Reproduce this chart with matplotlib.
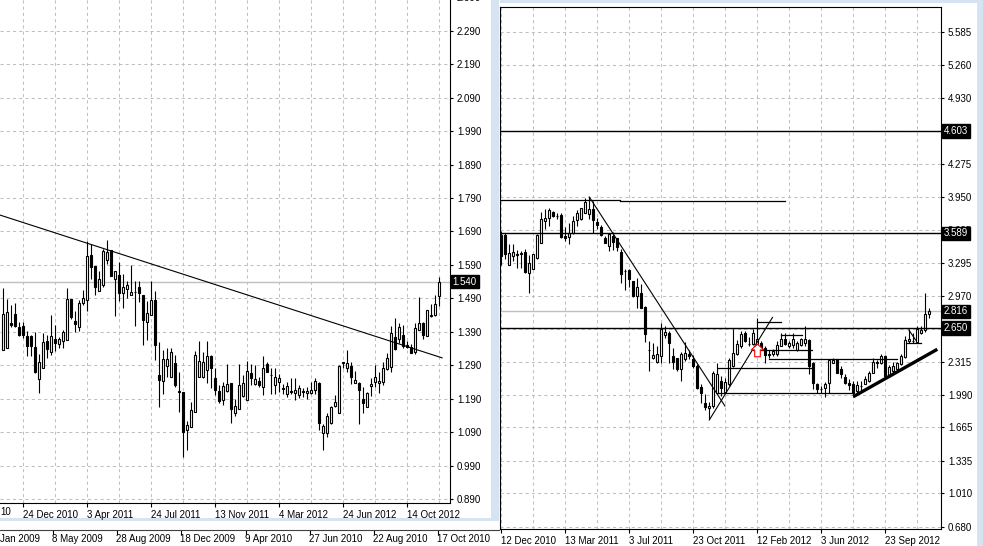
import numpy as np
import matplotlib.pyplot as plt
from matplotlib.patches import Rectangle

plt.rcParams['font.family'] = ['Liberation Sans', 'DejaVu Sans']
plt.rcParams['font.size'] = 7

# ---------------- left chart (weekly candles) ----------------
left_open = [1.336, 1.341, 1.416, 1.443, 1.404, 1.406, 1.378, 1.378, 1.344, 1.249,
             1.283, 1.361, 1.331, 1.369, 1.354, 1.363, 1.366, 1.488, 1.422, 1.405,
             1.477, 1.486, 1.619, 1.588, 1.511, 1.529, 1.606, 1.634, 1.548, 1.561,
             1.505, 1.519, 1.499, 1.509, 1.523, 1.499, 1.418, 1.439, 1.486, 1.261,
             1.244, 1.288, 1.256, 1.296, 1.214, 1.211, 1.096, 1.106, 1.151, 1.256,
             1.256, 1.276, 1.318, 1.251, 1.214, 1.186, 1.214, 1.236, 1.148, 1.160,
             1.199, 1.187, 1.266, 1.234, 1.244, 1.226, 1.293, 1.262, 1.231, 1.240,
             1.222, 1.204, 1.214, 1.208, 1.201, 1.212, 1.208, 1.207, 1.216, 1.236,
             1.086, 1.088, 1.116, 1.169, 1.148, 1.297, 1.281, 1.288, 1.238, 1.238,
             1.188, 1.166, 1.228, 1.239, 1.236, 1.241, 1.279, 1.286, 1.373, 1.369,
             1.381, 1.349, 1.343, 1.329, 1.396, 1.416, 1.376, 1.436, 1.439, 1.496]
left_high = [1.521, 1.489, 1.469, 1.475, 1.418, 1.418, 1.391, 1.381, 1.389, 1.325,
             1.387, 1.379, 1.439, 1.409, 1.375, 1.394, 1.521, 1.488, 1.453, 1.486,
             1.516, 1.661, 1.651, 1.588, 1.571, 1.638, 1.665, 1.634, 1.573, 1.598,
             1.564, 1.543, 1.591, 1.543, 1.543, 1.501, 1.481, 1.541, 1.513, 1.359,
             1.336, 1.341, 1.341, 1.321, 1.269, 1.211, 1.123, 1.181, 1.333, 1.361,
             1.331, 1.361, 1.321, 1.281, 1.231, 1.239, 1.293, 1.236, 1.189, 1.293,
             1.261, 1.304, 1.293, 1.291, 1.254, 1.318, 1.301, 1.281, 1.281, 1.264,
             1.234, 1.239, 1.253, 1.253, 1.231, 1.223, 1.226, 1.241, 1.251, 1.241,
             1.113, 1.148, 1.168, 1.201, 1.291, 1.301, 1.334, 1.301, 1.274, 1.241,
             1.226, 1.211, 1.251, 1.291, 1.271, 1.301, 1.326, 1.408, 1.431, 1.416,
             1.411, 1.361, 1.353, 1.416, 1.494, 1.418, 1.456, 1.473, 1.501, 1.553]
left_low = [1.336, 1.341, 1.403, 1.403, 1.376, 1.371, 1.318, 1.318, 1.268, 1.207,
            1.281, 1.313, 1.321, 1.333, 1.341, 1.341, 1.366, 1.429, 1.388, 1.391,
            1.471, 1.451, 1.549, 1.501, 1.511, 1.523, 1.593, 1.556, 1.436, 1.481,
            1.461, 1.491, 1.499, 1.408, 1.479, 1.349, 1.366, 1.439, 1.306, 1.166,
            1.203, 1.256, 1.256, 1.226, 1.151, 1.016, 1.036, 1.104, 1.151, 1.256,
            1.253, 1.236, 1.221, 1.201, 1.176, 1.171, 1.211, 1.118, 1.139, 1.160,
            1.196, 1.187, 1.231, 1.231, 1.226, 1.201, 1.269, 1.204, 1.204, 1.211,
            1.204, 1.196, 1.205, 1.186, 1.191, 1.196, 1.189, 1.203, 1.205, 1.096,
            1.036, 1.076, 1.114, 1.166, 1.148, 1.281, 1.271, 1.234, 1.236, 1.114,
            1.148, 1.166, 1.199, 1.226, 1.207, 1.231, 1.276, 1.271, 1.336, 1.356,
            1.341, 1.341, 1.326, 1.323, 1.394, 1.368, 1.376, 1.433, 1.436, 1.466]
left_close = [1.443, 1.449, 1.411, 1.408, 1.381, 1.381, 1.348, 1.348, 1.269, 1.299,
              1.359, 1.339, 1.376, 1.355, 1.368, 1.388, 1.488, 1.434, 1.413, 1.475,
              1.491, 1.616, 1.583, 1.523, 1.548, 1.631, 1.629, 1.558, 1.571, 1.505,
              1.523, 1.529, 1.508, 1.510, 1.506, 1.426, 1.446, 1.486, 1.349, 1.246,
              1.308, 1.308, 1.329, 1.231, 1.209, 1.091, 1.111, 1.157, 1.321, 1.304,
              1.301, 1.318, 1.281, 1.216, 1.183, 1.229, 1.233, 1.159, 1.169, 1.231,
              1.236, 1.274, 1.252, 1.248, 1.232, 1.283, 1.271, 1.260, 1.254, 1.253,
              1.220, 1.229, 1.209, 1.217, 1.221, 1.210, 1.214, 1.217, 1.244, 1.116,
              1.109, 1.139, 1.166, 1.181, 1.288, 1.299, 1.298, 1.255, 1.247, 1.216,
              1.178, 1.208, 1.234, 1.255, 1.242, 1.281, 1.313, 1.385, 1.339, 1.404,
              1.346, 1.344, 1.328, 1.401, 1.416, 1.379, 1.454, 1.439, 1.472, 1.540]
left_last = 1.540
left_trend = [(-0.83, 1.739), (109.7, 1.312)]
left_yticks = [0.890, 0.990, 1.090, 1.190, 1.290, 1.390, 1.490, 1.590, 1.690,
               1.790, 1.890, 1.990, 2.090, 2.190, 2.290, 2.390]
left_date_pos = [5, 21, 37, 53, 69, 85, 101]
left_date_labels = ["24 Dec 2010", "3 Apr 2011", "24 Jul 2011", "13 Nov 2011",
                    "4 Mar 2012", "24 Jun 2012", "14 Oct 2012"]
left_cut_label = "10"   # tail of a date label cut by the window edge
back_date_labels = ["Jan 2009", "8 May 2009", "28 Aug 2009", "18 Dec 2009",
                    "9 Apr 2010", "27 Jun 2010", "22 Aug 2010", "17 Oct 2010"]

# ---------------- right chart ----------------
right_open = [3.572, 3.572, 3.275, 3.364, 3.380, 3.388, 3.407, 3.199, 3.238, 3.341,
              3.496, 3.711, 3.744, 3.804, 3.762, 3.767, 3.562, 3.556, 3.595, 3.718,
              3.728, 3.794, 3.784, 3.827, 3.701, 3.655, 3.546, 3.463, 3.562, 3.546,
              3.404, 3.217, 3.222, 3.116, 2.967, 3.000, 2.862, 2.430, 2.356, 2.313,
              2.372, 2.577, 2.597, 2.372, 2.356, 2.247, 2.339, 2.396, 2.339, 2.273,
              2.069, 1.909, 1.858, 1.877, 2.009, 2.125, 2.016, 2.092, 2.273, 2.389,
              2.472, 2.604, 2.490, 2.488, 2.488, 2.505, 2.455, 2.389, 2.389, 2.389,
              2.472, 2.544, 2.472, 2.478, 2.432, 2.478, 2.498, 2.528, 2.300, 2.092,
              2.050, 2.052, 2.108, 2.306, 2.339, 2.247, 2.168, 2.108, 2.092, 2.026,
              2.077, 2.098, 2.125, 2.207, 2.310, 2.300, 2.372, 2.174, 2.224, 2.240,
              2.290, 2.366, 2.518, 2.521, 2.511, 2.604, 2.630, 2.786]
right_high = [3.612, 3.595, 3.480, 3.480, 3.420, 3.414, 3.437, 3.371, 3.387, 3.579,
              3.800, 3.833, 3.840, 3.810, 3.787, 3.787, 3.655, 3.688, 3.761, 3.820,
              3.843, 3.942, 3.952, 3.909, 3.744, 3.668, 3.562, 3.589, 3.602, 3.546,
              3.437, 3.232, 3.232, 3.116, 3.149, 3.083, 2.868, 2.521, 2.498, 2.472,
              2.703, 2.670, 2.620, 2.455, 2.356, 2.415, 2.511, 2.429, 2.382, 2.290,
              2.092, 1.992, 1.920, 2.224, 2.306, 2.174, 2.158, 2.356, 2.637, 2.531,
              2.620, 2.620, 2.564, 2.637, 2.753, 2.521, 2.472, 2.429, 2.439, 2.521,
              2.604, 2.604, 2.521, 2.604, 2.521, 2.554, 2.670, 2.538, 2.313, 2.108,
              2.075, 2.115, 2.339, 2.356, 2.339, 2.273, 2.197, 2.141, 2.125, 2.125,
              2.125, 2.174, 2.224, 2.356, 2.333, 2.389, 2.382, 2.280, 2.313, 2.313,
              2.389, 2.571, 2.637, 2.604, 2.670, 2.670, 3.000, 2.852]
right_low = [3.271, 3.331, 3.275, 3.314, 3.242, 3.248, 3.192, 2.994, 3.232, 3.331,
             3.496, 3.628, 3.661, 3.754, 3.734, 3.539, 3.513, 3.480, 3.579, 3.661,
             3.721, 3.787, 3.728, 3.595, 3.628, 3.562, 3.490, 3.414, 3.424, 3.414,
             3.093, 3.027, 3.060, 2.961, 2.852, 2.852, 2.511, 2.224, 2.339, 2.306,
             2.306, 2.554, 2.306, 2.240, 2.224, 2.125, 2.323, 2.339, 2.257, 2.042,
             1.910, 1.837, 1.745, 1.860, 1.992, 1.976, 2.002, 2.075, 2.267, 2.382,
             2.455, 2.511, 2.472, 2.482, 2.472, 2.445, 2.306, 2.356, 2.372, 2.372,
             2.472, 2.478, 2.455, 2.455, 2.422, 2.472, 2.472, 2.191, 2.042, 2.002,
             2.009, 1.969, 2.002, 2.300, 2.201, 2.158, 2.092, 2.035, 1.969, 2.009,
             2.026, 2.092, 2.115, 2.201, 2.257, 2.290, 2.168, 2.164, 2.207, 2.224,
             2.283, 2.356, 2.505, 2.505, 2.505, 2.587, 2.610, 2.753]
right_close = [3.364, 3.380, 3.390, 3.404, 3.371, 3.390, 3.205, 3.291, 3.381, 3.569,
               3.728, 3.744, 3.820, 3.761, 3.760, 3.552, 3.546, 3.595, 3.711, 3.794,
               3.843, 3.899, 3.827, 3.718, 3.671, 3.569, 3.496, 3.579, 3.503, 3.457,
               3.182, 3.215, 3.139, 2.967, 3.060, 2.852, 2.587, 2.428, 2.382, 2.389,
               2.637, 2.610, 2.505, 2.313, 2.240, 2.389, 2.399, 2.372, 2.273, 2.059,
               2.002, 1.869, 1.880, 2.207, 2.191, 2.059, 2.115, 2.333, 2.406, 2.495,
               2.587, 2.521, 2.488, 2.604, 2.544, 2.455, 2.382, 2.387, 2.422, 2.482,
               2.538, 2.488, 2.505, 2.544, 2.505, 2.538, 2.538, 2.273, 2.108, 2.042,
               2.048, 2.092, 2.330, 2.330, 2.207, 2.191, 2.108, 2.082, 2.002, 2.082,
               2.075, 2.148, 2.207, 2.316, 2.306, 2.372, 2.174, 2.267, 2.273, 2.300,
               2.372, 2.531, 2.544, 2.520, 2.637, 2.630, 2.786, 2.816]
right_last = 2.816
right_levels = [4.603, 3.589, 2.650]          # full width horizontal lines
right_segments = [                              # (j0, j1, price) short horizontals
    (-0.3, 29.7, 3.919), (29.7, 70.9, 3.909),
    (63.9, 69.9, 2.710), (69.9, 75.2, 2.581), (62.8, 77.7, 2.429),
    (66.9, 98.9, 2.339), (54.2, 77.4, 2.257), (54.2, 87.7, 2.002),
    (101.1, 104.8, 2.505)]
right_trends = [[(22.0, 3.949), (55.9, 1.877)],
                [(52.0, 1.738), (67.8, 2.755)],
                [(101.9, 2.630), (103.6, 2.530)]]
right_support = [(88.0, 1.969), (109.0, 2.439)]
right_arrow = (63.9, 2.432)
right_grid_y = [0.680, 1.010, 1.335, 1.665, 1.990, 2.315, 2.640, 2.970, 3.295,
                3.625, 3.950, 4.275, 4.600, 4.930, 5.260, 5.585]
right_yticks = [0.680, 1.010, 1.335, 1.665, 1.990, 2.315, 2.970, 3.295,
                3.625, 3.950, 4.275, 4.930, 5.260, 5.585]
right_date_pos = [0, 16, 32, 48, 64, 80, 96]
right_date_labels = ["12 Dec 2010", "13 Mar 2011", "3 Jul 2011", "23 Oct 2011",
                     "12 Feb 2012", "3 Jun 2012", "23 Sep 2012"]

W, H = 983, 546
GRID = '#c0c0c0'
FRAME = '#d6e3f2'

fig = plt.figure(figsize=(W / 100, H / 100), dpi=100)
fig.patch.set_facecolor('white')


def px_axes(x0, y0, x1, y1):
    return fig.add_axes([x0 / W, 1 - y1 / H, (x1 - x0) / W, (y1 - y0) / H])


def draw_candles(ax, o, h, l, c):
    o, h, l, c = map(np.asarray, (o, h, l, c))
    x = np.arange(len(o))
    ax.vlines(x, l, h, color='black', lw=0.8, zorder=3)
    up = c >= o
    ax.bar(x, np.abs(c - o), bottom=np.minimum(o, c), width=0.5,
           color=np.where(up, 'white', 'black'), edgecolor='black',
           linewidth=0.8, zorder=4)


def style_axes(ax, grid_y, yticks, grid_x, date_pos, date_labels):
    ax.set_facecolor('white')
    for gx in grid_x:
        ax.axvline(gx, color=GRID, lw=0.75, ls=(0, (3, 3)), zorder=1)
    for gy in grid_y:
        ax.axhline(gy, color=GRID, lw=0.75, ls=(0, (3, 3)), zorder=1)
    ax.yaxis.tick_right()
    ax.set_yticks(yticks)
    ax.set_yticklabels(['%.3f' % v for v in yticks])
    ax.tick_params(axis='y', direction='out', length=2.5, width=0.8, pad=2.5,
                   labelsize=7)
    ax.set_xticks(date_pos)
    ax.set_xticklabels(date_labels)
    for t in ax.get_xticklabels():
        t.set_horizontalalignment('left')
    ax.tick_params(axis='x', direction='out', length=3, width=0.8, pad=2,
                   labelsize=7)


def price_box(ax, y, text):
    ax.text(1.006, y, text, transform=ax.get_yaxis_transform(), ha='left',
            va='center', color='white', fontsize=7, zorder=10, clip_on=False,
            bbox=dict(boxstyle='square,pad=0.18', fc='black', ec='black'))


# left panel (top of the chart runs past the window edge)
axl = px_axes(0, -4, 450, 503)
draw_candles(axl, left_open, left_high, left_low, left_close)
style_axes(axl, left_yticks, left_yticks, np.arange(-3, 112, 8),
           left_date_pos, left_date_labels)
axl.set_xlim(-0.825, 111.675)
axl.set_ylim(0.878, 2.394)
axl.axhline(left_last, color=GRID, lw=1.0, zorder=2)
axl.plot(*zip(*left_trend), color='black', lw=0.8, zorder=5)
for s in ['top', 'left']:
    axl.spines[s].set_visible(False)
for s in ['right', 'bottom']:
    axl.spines[s].set_linewidth(0.8)
price_box(axl, left_last, '%.3f' % left_last)
fig.text(0, 1 - 512 / H, left_cut_label, ha='left', va='center', fontsize=7)

# right panel
axr = px_axes(500, 7, 941, 529)
draw_candles(axr, right_open, right_high, right_low, right_close)
style_axes(axr, right_grid_y, right_yticks, np.arange(0, 109, 8),
           right_date_pos, right_date_labels)
axr.set_xlim(-0.325, 109.925)
axr.set_ylim(0.657, 5.833)
for s in axr.spines.values():
    s.set_linewidth(0.8)
axr.axhline(right_last, color=GRID, lw=1.0, zorder=2)
for lv in right_levels:
    axr.axhline(lv, color='black', lw=1.0, zorder=5)
for j0, j1, p in right_segments:
    axr.plot([j0, j1], [p, p], color='black', lw=0.9, zorder=5)
for tr in right_trends:
    axr.plot(*zip(*tr), color='black', lw=0.8, zorder=5)
axr.plot(*zip(*right_support), color='black', lw=2.4, zorder=5,
         solid_capstyle='butt')
arrow_verts = [(0, 1), (1, 0.1), (0.45, 0.1), (0.45, -1), (-0.45, -1),
               (-0.45, 0.1), (-1, 0.1), (0, 1)]
axr.plot([right_arrow[0]], [right_arrow[1]], marker=arrow_verts, ms=9,
         mfc='white', mec='red', mew=0.8, ls='none', zorder=6)
for lv in right_levels:
    price_box(axr, lv, '%.3f' % lv)
price_box(axr, right_last, '%.3f' % right_last)

# window frames of the terminal
fig.patches.append(Rectangle((491 / W, 1 - 521 / H), 8 / W, 521 / H,
                             transform=fig.transFigure, fc=FRAME, ec='none', zorder=-1))
fig.patches.append(Rectangle((0, 1 - 521 / H), 499 / W, 3 / H,
                             transform=fig.transFigure, fc=FRAME, ec='none', zorder=-1))
fig.patches.append(Rectangle((500 / W, 1 - 3 / H), 483 / W, 3 / H,
                             transform=fig.transFigure, fc=FRAME, ec='none', zorder=-1))
fig.patches.append(Rectangle((977 / W, 0), 6 / W, 1,
                             transform=fig.transFigure, fc=FRAME, ec='none', zorder=-1))
fig.lines.append(plt.Line2D([0, 499 / W], [1 - 530 / H, 1 - 530 / H],
                            transform=fig.transFigure, color='#404040', lw=0.8))

# date row of the window behind
for i, lab in enumerate(back_date_labels):
    xp = 52 + 64.2 * (i - 1) if i > 0 else 0
    fig.text(xp / W, 1 - 539 / H, lab, ha='left', va='center', fontsize=7)
    if i > 0:
        fig.lines.append(plt.Line2D([(xp + 1) / W] * 2, [1 - 531 / H, 1 - 534 / H],
                                    transform=fig.transFigure, color='black', lw=0.8))

fig.savefig('out.png', dpi=100)
